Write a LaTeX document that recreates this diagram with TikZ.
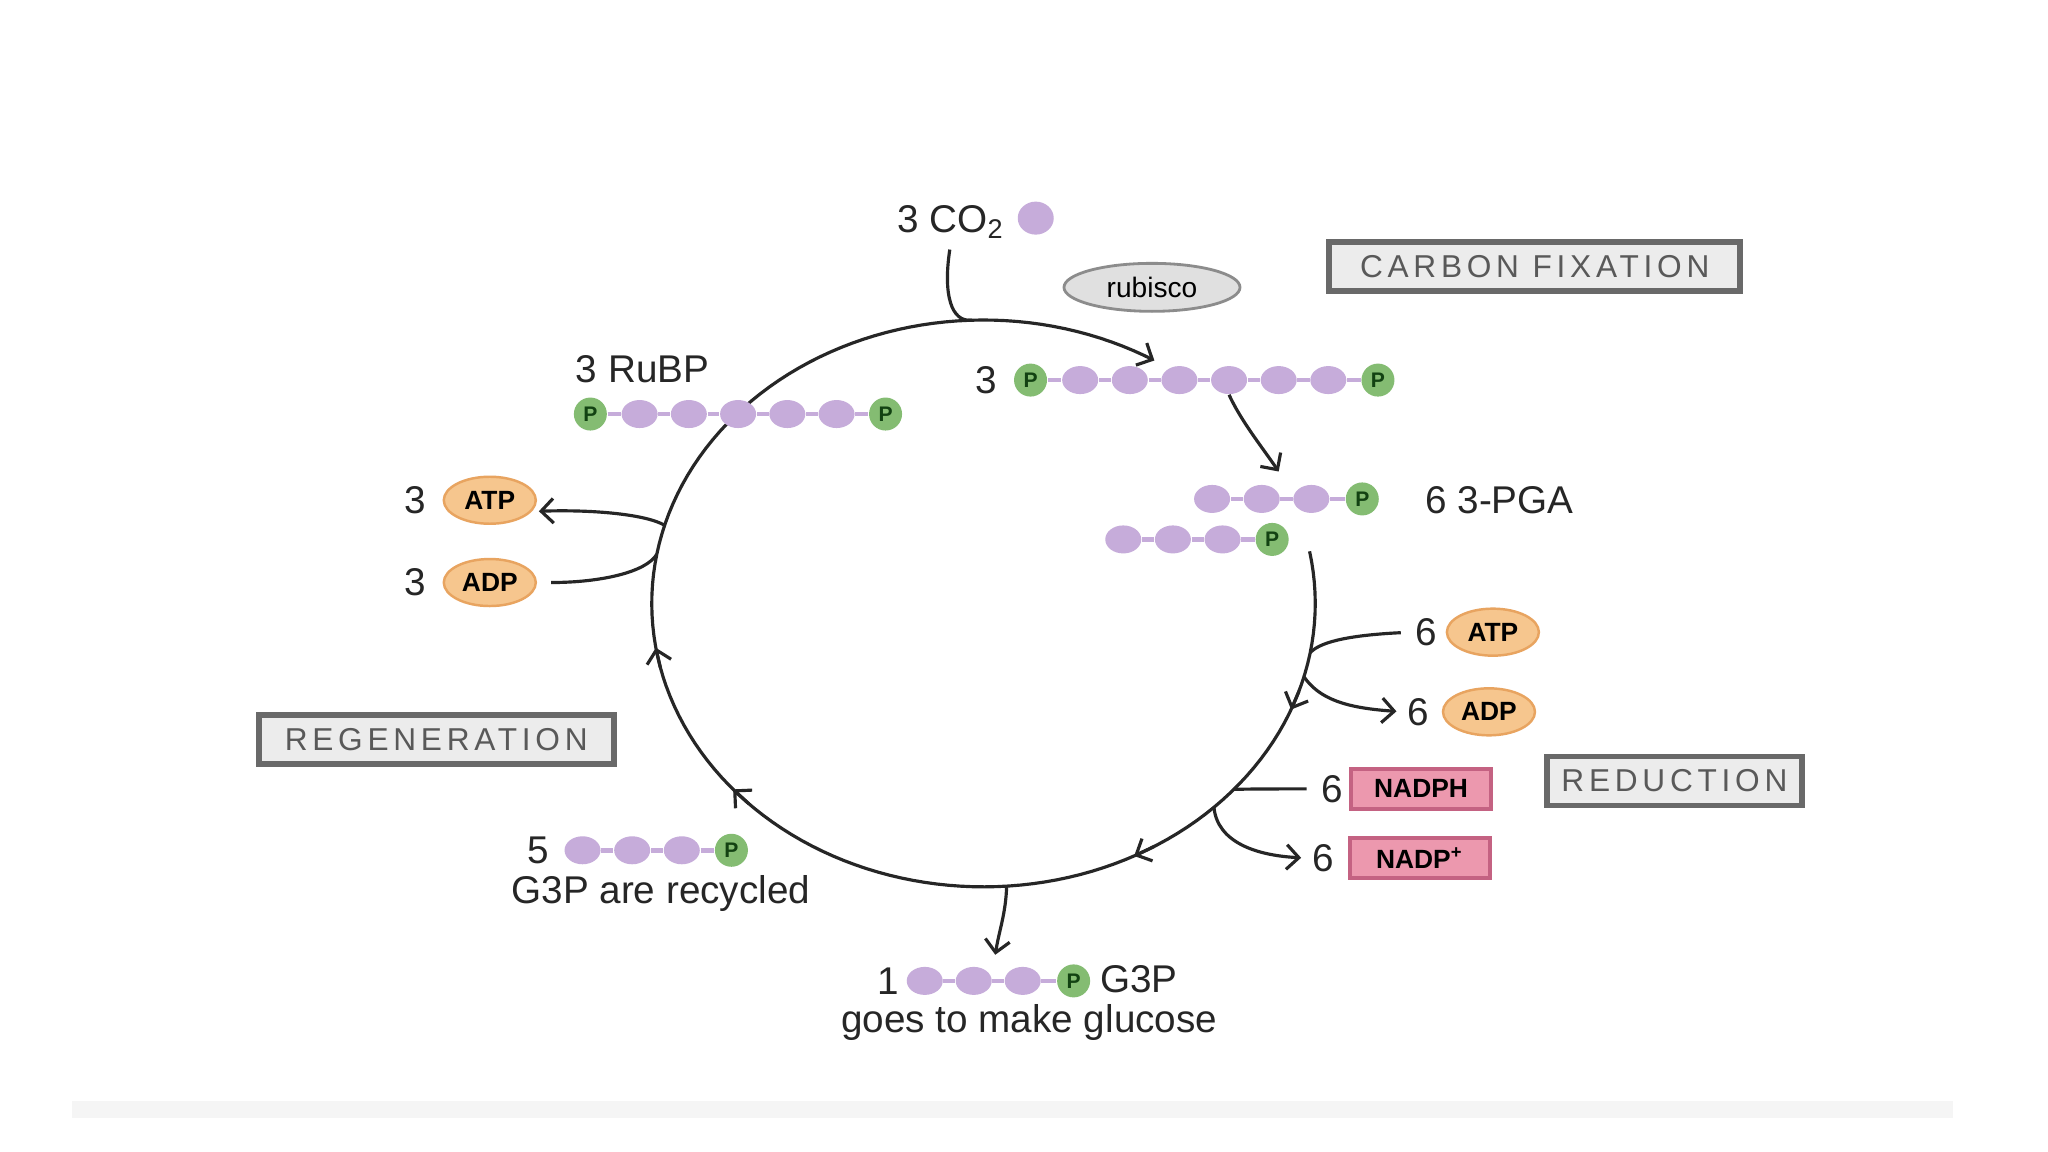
\documentclass[tikz,border=0pt]{standalone}
\usepackage{fontspec}
\setmainfont{Liberation Sans}
\newfontfamily\tagfont[LetterSpace=15]{Liberation Sans}
\usetikzlibrary{shapes.geometric,arrows.meta,positioning}

\definecolor{carbonpurple}{RGB}{198,172,218}
\definecolor{phosgreen}{RGB}{132,188,114}
\definecolor{pdark}{RGB}{18,66,18}
\definecolor{atporange}{RGB}{246,198,142}
\definecolor{atpedge}{RGB}{232,164,96}
\definecolor{nadpink}{RGB}{236,152,174}
\definecolor{nadedge}{RGB}{196,98,130}
\definecolor{boxgray}{RGB}{236,236,236}
\definecolor{edgegray}{RGB}{105,105,105}

\begin{document}
\begin{tikzpicture}[x=0.013061cm, y=-0.013061cm,
  carbon/.style={ellipse, fill=carbonpurple, minimum width=0.36cm, minimum height=0.28cm, inner sep=0pt},
  phos/.style={circle, fill=phosgreen, minimum size=0.33cm, inner sep=0pt, text=pdark, font=\bfseries\fontsize{6}{6}\selectfont},
  link/.style={draw=carbonpurple, line width=1.3pt},
  cyc/.style={draw=black!85, line width=0.9pt},
  headed/.style={-{Straight Barb[length=3.5pt,width=7pt]}},
  lbl/.style={font=\fontsize{11}{13}\selectfont, text=black!85, inner sep=1pt},
  energy/.style={ellipse, fill=atporange, draw=atpedge, line width=0.7pt, minimum width=0.92cm, minimum height=0.47cm, inner sep=0pt, font=\bfseries\fontsize{7.5}{8}\selectfont},
  carrier/.style={rectangle, fill=nadpink, draw=nadedge, line width=1pt, minimum width=1.4cm, minimum height=0.4cm, inner sep=0pt, font=\bfseries\fontsize{7.5}{8}\selectfont},
  stage/.style={rectangle, fill=boxgray, draw=edgegray, line width=1.6pt, minimum height=0.49cm, inner sep=0pt, text=black!65, font=\tagfont\fontsize{9}{10}\selectfont},
  enzyme/.style={ellipse, fill=black!12, draw=black!45, line width=0.8pt, minimum width=1.76cm, minimum height=0.48cm, inner sep=0pt, font=\fontsize{8}{9}\selectfont}]

  % frame
  \useasboundingbox (0,0) rectangle (1568,882);
  \fill[white] (0,0) rectangle (1568,882);
  \fill[black!4] (55,843) rectangle (1495,856);

  % the cycle (clockwise)
  \draw[cyc, headed] plot[domain=-10.6:301, samples=150] ({753+254*cos(\x)},{462+217*sin(\x)});
  \foreach \t in {22,63,139,171}
    \draw[cyc, headed] ({753+254*cos(\t-4)},{462+217*sin(\t-4)}) -- ({753+254*cos(\t)},{462+217*sin(\t)});

  % points on the cycle
  \coordinate (arcTop) at ({753+254*cos(268)},{462+217*sin(268)});
  \coordinate (cycAtpL) at ({753+254*cos(196)},{462+217*sin(196)});
  \coordinate (cycAdpL) at ({753+254*cos(190)},{462+217*sin(190)});
  \coordinate (cycAtpR) at ({753+254*cos(10)},{462+217*sin(10)});
  \coordinate (cycAdpR) at ({753+254*cos(15)},{462+217*sin(15)});
  \coordinate (cycNadph) at ({753+254*cos(41)},{462+217*sin(41)});
  \coordinate (cycNadp) at ({753+254*cos(46)},{462+217*sin(46)});
  \coordinate (cycGlu) at ({753+254*cos(86)},{462+217*sin(86)});
  \coordinate (pgaIn) at (979,361);
  \coordinate (gluIn) at (762,731);

  % carbon fixation
  \node[lbl] (co2) at (728,170) {3 CO\textsubscript{2}};
  \node[carbon, minimum width=0.36cm, minimum height=0.33cm] (co2dot) at (793,167) {};
  \node[enzyme] (rubisco) at (882,220) {rubisco};
  \node[stage, minimum width=4.11cm] (fixation) at (1175,204) {CARBON FIXATION};
  \draw[cyc, shorten <=2pt] (co2.south) .. controls (722,225) and (728,247) .. (arcTop);

  % six-carbon intermediate
  \node[lbl] (n6c) at (755,291) {3};
  \node[phos] (sixP0) at (789,291) {P};
  \foreach \i in {1,...,6}
    \node[carbon] (sixC\i) at (789+38*\i,291) {};
  \node[phos] (sixP7) at (1055,291) {P};
  \draw[link] (sixP0) -- (sixC1);
  \foreach \i [evaluate=\i as \j using int(\i+1)] in {1,...,5}
    \draw[link] (sixC\i) -- (sixC\j);
  \draw[link] (sixC6) -- (sixP7);
  \draw[cyc, headed] (sixC4.south) .. controls (950,322) and (966,342) .. (pgaIn);

  % 3-PGA
  \foreach \i in {1,2,3}
    \node[carbon] (pgaA\i) at (890+38*\i,382) {};
  \node[phos] (pgaAP) at (1043,382) {P};
  \foreach \i in {1,2,3}
    \node[carbon] (pgaB\i) at (822+38*\i,413) {};
  \node[phos] (pgaBP) at (974,413) {P};
  \draw[link] (pgaA1) -- (pgaA2) -- (pgaA3) -- (pgaAP);
  \draw[link] (pgaB1) -- (pgaB2) -- (pgaB3) -- (pgaBP);
  \node[lbl] (pgalbl) at (1148,383) {6 3-PGA};

  % reduction
  \node[lbl] (n6atp) at (1092,484) {6};
  \node[energy] (atpR) at (1143,484) {ATP};
  \node[lbl] (n6adp) at (1086,545) {6};
  \node[energy] (adpR) at (1140,545) {ADP};
  \draw[cyc, shorten <=3pt] (n6atp.west) .. controls (1040,486) and (1012,490) .. (cycAtpR);
  \draw[cyc, headed, shorten >=2pt] (cycAdpR) .. controls (1010,535) and (1030,542) .. (n6adp.west);

  \node[lbl] (n6nadph) at (1020,604) {6};
  \node[carrier] (nadph) at (1088,604) {NADPH};
  \node[lbl] (n6nadp) at (1013,657) {6};
  \node[carrier] (nadp) at (1087,657) {NADP\textsuperscript{+}};
  \draw[cyc, shorten <=3pt] (n6nadph.west) .. controls (980,604) and (958,604) .. (cycNadph);
  \draw[cyc, headed, shorten >=2pt] (cycNadp) .. controls (932,645) and (962,655) .. (n6nadp.west);
  \node[stage, minimum width=2.55cm] (reduction) at (1282,598) {REDUCTION};

  % G3P leaving the cycle
  \draw[cyc, headed] (cycGlu) .. controls (770,700) and (765,712) .. (gluIn);
  \node[lbl] (n1) at (680,751) {1};
  \foreach \i in {1,2,3}
    \node[carbon] (gluC\i) at (670.5+37.5*\i,751) {};
  \node[phos] (gluP) at (822,751) {P};
  \draw[link] (gluC1) -- (gluC2) -- (gluC3) -- (gluP);
  \node[lbl] (g3pOut) at (872,750) {G3P};
  \node[lbl] (glucose) at (788,783) {goes to make glucose};

  % regeneration
  \node[lbl] (n5) at (412,651) {5};
  \foreach \i in {1,2,3}
    \node[carbon] (recC\i) at (408+38*\i,651) {};
  \node[phos] (recP) at (560,651) {P};
  \draw[link] (recC1) -- (recC2) -- (recC3) -- (recP);
  \node[lbl] (recycled) at (506,684) {G3P are recycled};
  \node[stage, minimum width=3.55cm] (regeneration) at (334,566) {REGENERATION};

  \node[lbl] (n3atp) at (318,383) {3};
  \node[energy] (atpL) at (375,383) {ATP};
  \node[lbl] (n3adp) at (318,446) {3};
  \node[energy] (adpL) at (375,446) {ADP};
  \draw[cyc, headed, shorten >=2pt] (cycAtpL) .. controls (495,394) and (455,390) .. (atpL.-15);
  \draw[cyc, shorten <=4pt] (adpL.east) .. controls (460,446) and (495,438) .. (cycAdpL);

  % RuBP
  \node[lbl] (rubplbl) at (492,283) {3 RuBP};
  \node[phos] (rubpP0) at (452,317) {P};
  \foreach \i in {1,...,5}
    \node[carbon] (rubpC\i) at (452+37.7*\i,317) {};
  \node[phos] (rubpP6) at (678,317) {P};
  \draw[link] (rubpP0) -- (rubpC1);
  \foreach \i [evaluate=\i as \j using int(\i+1)] in {1,...,4}
    \draw[link] (rubpC\i) -- (rubpC\j);
  \draw[link] (rubpC5) -- (rubpP6);
\end{tikzpicture}
\end{document}
